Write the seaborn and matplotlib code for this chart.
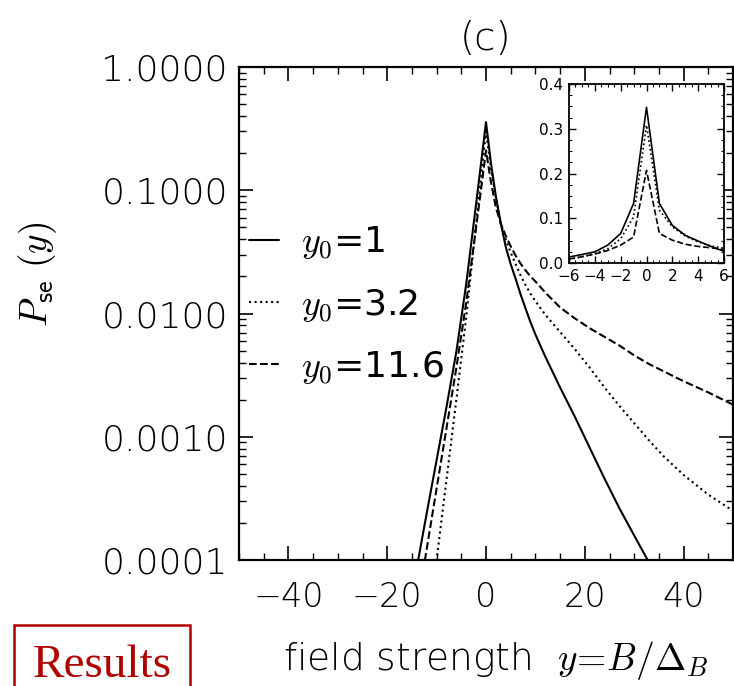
import numpy as np
import pandas as pd
import matplotlib
matplotlib.use("Agg")
import matplotlib.pyplot as plt
import matplotlib.ticker as mticker
import seaborn as sns

# ---------------- data ----------------
x_main = [-16, -14, -12, -10, -8, -6, -4, -2, -1, 0, 1, 2, 3, 4, 5, 6, 7, 8, 9,
          10, 12, 15, 18, 21, 24, 27, 30, 33, 36, 40, 45, 50]
p_y0_1 = [3.16e-5, 8.71e-5, 2.40e-4, 6.46e-4, 1.74e-3, 4.90e-3, 0.0174, 0.0776,
          0.166, 0.357, 0.166, 0.0891, 0.0537, 0.0347, 0.0251, 0.0191, 0.0143,
          0.0110, 0.00851, 0.00676, 0.00447, 0.00251, 0.00145, 8.13e-4, 4.57e-4,
          2.63e-4, 1.58e-4, 9.55e-5, 5.62e-5, 2.82e-5, 1.20e-5, 5.01e-6]
p_y0_32 = [1.10e-6, 5.01e-6, 2.24e-5, 1.00e-4, 4.47e-4, 2.00e-3, 9.33e-3, 0.0537,
           0.126, 0.300, 0.151, 0.0871, 0.0537, 0.0398, 0.0313, 0.0251, 0.0204,
           0.0170, 0.0145, 0.0126, 0.00977, 0.00708, 0.00513, 0.00363, 0.00251,
           0.00178, 0.00129, 9.33e-4, 6.92e-4, 4.90e-4, 3.39e-4, 2.51e-4]
p_y0_116 = [1.29e-5, 3.98e-5, 1.23e-4, 3.80e-4, 1.17e-3, 3.63e-3, 0.0123, 0.0501,
            0.102, 0.210, 0.117, 0.0724, 0.0537, 0.0427, 0.0351, 0.0295, 0.0254,
            0.0224, 0.0200, 0.0182, 0.0148, 0.0112, 0.00912, 0.00759, 0.00646,
            0.00550, 0.00457, 0.00389, 0.00339, 0.00282, 0.00229, 0.00182]

x_inset = [-6, -5, -4, -3, -2, -1, 0, 1, 2, 3, 4, 5, 6]
i_y0_1 = [0.0134, 0.019, 0.025, 0.040, 0.066, 0.133, 0.348, 0.133, 0.084, 0.062,
          0.049, 0.037, 0.026]
i_y0_32 = [0.0075, 0.014, 0.021, 0.032, 0.054, 0.103, 0.308, 0.118, 0.081, 0.060,
           0.047, 0.038, 0.033]
i_y0_116 = [0.009, 0.014, 0.020, 0.028, 0.040, 0.058, 0.207, 0.066, 0.051, 0.042,
            0.037, 0.034, 0.030]

labels = [r"$y_0$=1", r"$y_0$=3.2", r"$y_0$=11.6"]
styles = ["-", ":", "--"]

# ---------------- style ----------------
sns.set_theme(style="ticks")
plt.rcParams["font.family"] = ["DejaVu Sans"]
plt.rcParams["mathtext.fontset"] = "cm"
plt.rcParams["axes.linewidth"] = 1.6
for k in ["text.color", "axes.labelcolor", "xtick.color", "ytick.color", "axes.edgecolor"]:
    plt.rcParams[k] = "black"

fig = plt.figure(figsize=(7.34, 6.86), dpi=100)
ax = fig.add_axes([239 / 734, 1 - 560 / 686, 494 / 734, 493 / 686])

main_series = [p_y0_1, p_y0_32, p_y0_116]
for vals, lab, ls in zip(main_series, labels, styles):
    df = pd.DataFrame({"x": x_main, "p": vals})
    sns.lineplot(data=df, x="x", y="p", ax=ax, color="black", linewidth=1.5,
                 linestyle=ls, label=lab)

ax.set_yscale("log")
ax.set_xlim(-50, 50)
ax.set_ylim(1e-4, 1.0)
ax.set_yticks([1e-4, 1e-3, 1e-2, 1e-1, 1.0])
ax.yaxis.set_major_formatter(mticker.FuncFormatter(lambda v, p: f"{v:.4f}"))
ax.yaxis.set_minor_locator(mticker.LogLocator(base=10, subs=np.arange(2, 10), numticks=20))
ax.yaxis.set_minor_formatter(mticker.NullFormatter())
ax.set_xticks([-40, -20, 0, 20, 40])
ax.xaxis.set_minor_locator(mticker.MultipleLocator(5))
ax.tick_params(which="both", direction="in", top=True, right=True, bottom=True,
               left=True, color="black")
ax.tick_params(which="major", length=10, width=1.2)
ax.tick_params(which="minor", length=5, width=1.0)
ax.tick_params(axis="y", which="major", labelsize=26, pad=8)
ax.tick_params(axis="x", which="major", labelsize=24, pad=15)
for t in ax.get_xticklabels() + ax.get_yticklabels():
    t.set_fontweight("light")

ax.set_ylabel(r"$P_{\mathsf{se}}\ (y)$", fontsize=27)
ax.yaxis.set_label_coords(-0.365, 0.58)
ax.set_xlabel("field strength  " + r"$y\!=\!B/\Delta_B$", fontsize=27, fontweight="light")
ax.xaxis.set_label_coords(0.52, -0.16)
ax.set_title("(c)", fontsize=28, pad=12, fontweight="light")

leg = ax.legend(loc="upper left", bbox_to_anchor=(-0.01, 0.71), frameon=False,
                fontsize=26, handlelength=0.85, handletextpad=0.6, labelspacing=0.70,
                borderaxespad=0.0)
for line in leg.get_lines():
    line.set_linewidth(1.5)

# ---------------- inset ----------------
ins = fig.add_axes([569 / 734, 1 - 263 / 686, 155 / 734, 179 / 686])
inset_series = [i_y0_1, i_y0_32, i_y0_116]
for vals, ls in zip(inset_series, styles):
    df = pd.DataFrame({"x": x_inset, "p": vals})
    sns.lineplot(data=df, x="x", y="p", ax=ins, color="black", linewidth=1.2,
                 linestyle=ls, legend=False)
ins.set_xlim(-6, 6)
ins.set_ylim(0, 0.4)
ins.set_xticks([-6, -4, -2, 0, 2, 4, 6])
ins.set_yticks([0.0, 0.1, 0.2, 0.3, 0.4])
ins.yaxis.set_major_formatter(mticker.FormatStrFormatter("%.1f"))
ins.xaxis.set_minor_locator(mticker.MultipleLocator(0.5))
ins.yaxis.set_minor_locator(mticker.MultipleLocator(0.025))
ins.tick_params(which="both", direction="in", top=True, right=True, bottom=True,
                left=True, color="black")
ins.tick_params(which="major", length=5, width=1.0, labelsize=11, pad=4)
ins.tick_params(which="minor", length=2.5, width=0.8)
ins.set_xlabel("")
ins.set_ylabel("")
for s in ins.spines.values():
    s.set_linewidth(1.3)

# ---------------- "Results" badge ----------------
fig.text(0.139, 0.030, "Results", fontsize=34, color="#b00000",
         family="Liberation Serif", ha="center", va="center",
         bbox=dict(boxstyle="square,pad=0.40", facecolor="white",
                   edgecolor="#b00000", linewidth=1.8))

fig.savefig("out.png", dpi=100)
